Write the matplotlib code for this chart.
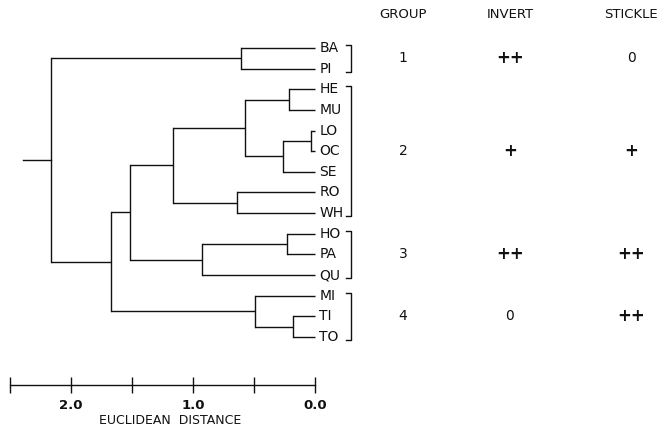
import matplotlib
matplotlib.use("Agg")
import matplotlib.pyplot as plt
from matplotlib import transforms

# leaves, top to bottom
leaves = ["BA", "PI", "HE", "MU", "LO", "OC", "SE", "RO", "WH",
          "HO", "PA", "QU", "MI", "TI", "TO"]

# merges, linkage style: node ids 0..14 are leaves, 15.. are new clusters
merge_a = [0, 2, 4, 17, 16, 7, 19, 9, 22, 21, 13, 12, 24, 15]
merge_b = [1, 3, 5, 6, 18, 8, 20, 10, 11, 23, 14, 25, 26, 27]
merge_h = [0.61, 0.21, 0.03, 0.26, 0.57, 0.64, 1.16, 0.23, 0.93,
           1.52, 0.18, 0.49, 1.67, 2.16]
root_stub = 2.39

# group table
group_first = [0, 2, 9, 12]
group_last = [1, 8, 11, 14]
group_ids = ["1", "2", "3", "4"]
invert = ["++", "+", "++", "0"]
stickle = ["0", "+", "++", "++"]

W, H = 662, 432
ink = "#111111"
fig = plt.figure(figsize=(W / 100, H / 100), dpi=100)
fig.patch.set_facecolor("white")

# axes spans the distance scale (2.5 .. 0.0) horizontally
ax_left, ax_right, ax_bottom = 10, 315, 385
ax = fig.add_axes([ax_left / W, (H - ax_bottom) / H,
                   (ax_right - ax_left) / W, ax_bottom / H])
ax.set_xlim(2.5, 0.0)
y0, step = 48, 20.64
ax.set_ylim((ax_bottom - y0) / step, -y0 / step)
for s in ["top", "left", "right"]:
    ax.spines[s].set_visible(False)
ax.spines["bottom"].set_color(ink)
ax.spines["bottom"].set_linewidth(1.0)
ax.set_yticks([])
ax.set_xticks([2.5, 2.0, 1.5, 1.0, 0.5, 0.0])
ax.set_xticklabels(["", "2.0", "", "1.0", "", "0.0"])
ax.tick_params(axis="x", direction="inout", length=12, width=1.0,
               color=ink, labelcolor=ink, labelsize=9.5, pad=4)
for t in ax.get_xticklabels():
    t.set_fontweight("bold")
ax.set_xlabel("EUCLIDEAN  DISTANCE", fontsize=9, color=ink, labelpad=10)
ax.xaxis.set_label_coords(0.524, -0.075)

# dendrogram
n = len(leaves)
pos = {i: float(i) for i in range(n)}
height = {i: 0.0 for i in range(n)}
lw = 1.0
for k, (a, b, h) in enumerate(zip(merge_a, merge_b, merge_h)):
    node = n + k
    for c in (a, b):
        ax.plot([height[c], h], [pos[c], pos[c]], color=ink, lw=lw,
                solid_capstyle="butt", clip_on=False)
    ax.plot([h, h], [pos[a], pos[b]], color=ink, lw=lw, clip_on=False)
    pos[node] = (pos[a] + pos[b]) / 2
    height[node] = h
top = n + len(merge_h) - 1
ax.plot([height[top], root_stub], [pos[top], pos[top]], color=ink, lw=lw,
        clip_on=False)

# leaf labels
for i, name in enumerate(leaves):
    ax.text(-0.035, i, name, ha="left", va="center", fontsize=10,
            color=ink, clip_on=False)

# group brackets and table, x in figure fraction, y in leaf units
tr = transforms.blended_transform_factory(fig.transFigure, ax.transData)
bx, tick = 351 / W, 5 / W
for g0, g1 in zip(group_first, group_last):
    ya, yb = g0 - 0.15, g1 + 0.15
    ax.plot([bx - tick, bx, bx, bx - tick], [ya, ya, yb, yb], color=ink,
            lw=lw, transform=tr, clip_on=False)

col_x = [403 / W, 510 / W, 631 / W]
headers = ["GROUP", "INVERT", "STICKLE"]
head_y = (15 - y0) / step
for x, hd in zip(col_x, headers):
    ax.text(x, head_y, hd, ha="center", va="center", fontsize=9.5,
            color=ink, transform=tr, clip_on=False)

for g0, g1, gid, iv, st in zip(group_first, group_last, group_ids,
                               invert, stickle):
    yc = (g0 + g1) / 2
    for x, val in zip(col_x, [gid, iv, st]):
        bold = "+" in val
        ax.text(x, yc, val, ha="center", va="center",
                fontsize=12 if bold else 10,
                fontweight="bold" if bold else "normal",
                color=ink, transform=tr, clip_on=False)

fig.savefig("out.png", dpi=100, facecolor="white")
